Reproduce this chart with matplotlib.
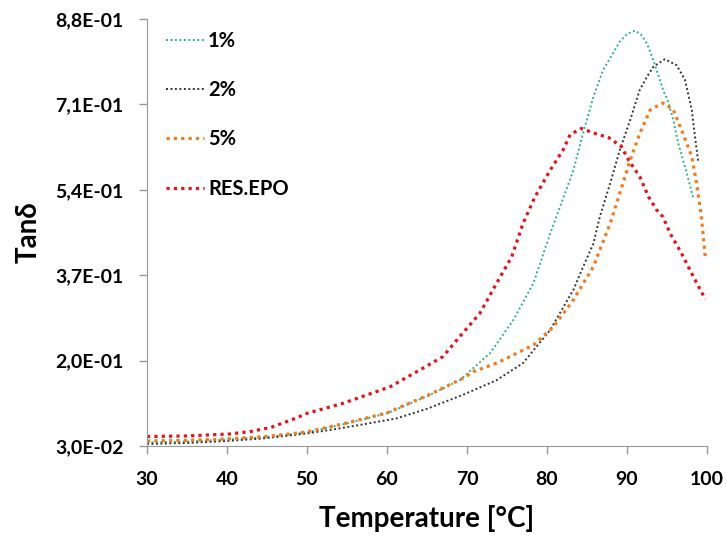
import matplotlib
matplotlib.use("Agg")
import matplotlib.pyplot as plt
import numpy as np

plt.rcParams['font.family'] = ['Lato', 'DejaVu Sans']
plt.rcParams['font.weight'] = 'bold'

# Tan delta vs temperature, one array pair per sample
temp_1 = [30, 35, 40, 45, 50, 55, 60, 65.4, 69.1, 72.9, 75.8, 78.3, 80.4, 82.25,
          83.3, 84.5, 85.8, 87.0, 88.0, 89.1, 90.0, 91.0, 91.8, 92.5, 93.3, 94.1,
          94.6, 95.0, 95.8, 96.4, 97.25, 98.3]
tan_1 = [0.037, 0.039, 0.043, 0.048, 0.057, 0.075, 0.095, 0.132, 0.161, 0.215, 0.281,
         0.354, 0.453, 0.533, 0.579, 0.652, 0.725, 0.778, 0.805, 0.835, 0.850, 0.857,
         0.848, 0.831, 0.798, 0.759, 0.735, 0.722, 0.679, 0.633, 0.586, 0.523]

temp_2 = [30, 35, 40, 44.5, 50, 52.9, 57, 61.2, 65, 69.5, 70.8, 73.7, 77.0, 80.4,
          83.3, 84.5, 85.8, 86.6, 87.9, 89.1, 90.4, 91.6, 92.5, 93.3, 94.75, 96.2,
          97.25, 98.1, 98.5, 98.9]
tan_2 = [0.034, 0.036, 0.040, 0.045, 0.055, 0.062, 0.073, 0.085, 0.104, 0.132, 0.141,
         0.161, 0.195, 0.261, 0.341, 0.386, 0.433, 0.486, 0.553, 0.619, 0.679, 0.739,
         0.765, 0.785, 0.800, 0.788, 0.759, 0.699, 0.646, 0.596]

temp_5 = [30, 35, 40, 45, 50, 55, 60, 65.4, 69.5, 70.8, 73.7, 75.0, 78.3, 80.8,
          83.3, 85.8, 86.6, 87.9, 89.1, 90.4, 91.6, 92.9, 94.5, 95.8, 97.0, 98.1,
          98.7, 99.3, 99.8]
tan_5 = [0.040, 0.041, 0.044, 0.049, 0.058, 0.076, 0.096, 0.133, 0.165, 0.178, 0.195,
         0.205, 0.231, 0.267, 0.321, 0.387, 0.420, 0.473, 0.533, 0.599, 0.652, 0.699,
         0.713, 0.699, 0.652, 0.606, 0.553, 0.486, 0.404]

temp_epo = [30, 35, 40.4, 43, 45.5, 48.7, 50, 54.5, 60.4, 64.5, 67.0, 69.1, 71.6, 73.7,
            75.6, 77.0, 78.5, 80.4, 82.0, 82.9, 84.3, 86.2, 87.7, 89.3, 90.2, 91.6,
            92.7, 93.7, 94.5, 95.4, 96.8, 98.3, 99.8]
tan_epo = [0.049, 0.050, 0.054, 0.059, 0.067, 0.086, 0.095, 0.115, 0.148, 0.185, 0.208,
           0.248, 0.294, 0.354, 0.407, 0.473, 0.526, 0.579, 0.619, 0.650, 0.662, 0.651,
           0.644, 0.626, 0.599, 0.566, 0.526, 0.500, 0.486, 0.453, 0.414, 0.367, 0.322]

labels = ["1%", "2%", "5%", "RES.EPO"]
yticks = [0.03, 0.20, 0.37, 0.54, 0.71, 0.88]
ytick_labels = ["3,0E-02", "2,0E-01", "3,7E-01", "5,4E-01", "7,1E-01", "8,8E-01"]

fig = plt.figure(figsize=(7.26, 5.41), dpi=100)
ax = fig.add_axes([0.2025, 0.1756, 0.7713, 0.7893])

ax.plot(temp_1, tan_1, color='#2bb58a', lw=1.4, ls=(0, (1, 1.3)), label=labels[0])
ax.plot(temp_2, tan_2, color='#333333', lw=1.4, ls=(0, (1, 1.3)), label=labels[1])
ax.plot(temp_5, tan_5, color='#f07b22', lw=2.3, ls=(0, (1, 1.3)), label=labels[2])
ax.plot(temp_epo, tan_epo, color='#e8121b', lw=2.3, ls=(0, (1, 1.3)), label=labels[3])

ax.set_xlim(30, 100)
ax.set_ylim(0.03, 0.88)
ax.set_xticks(range(30, 101, 10))
ax.set_yticks(yticks)
ax.set_yticklabels(ytick_labels)

for side in ['top', 'right']:
    ax.spines[side].set_visible(False)
for side in ['left', 'bottom']:
    ax.spines[side].set_color('#999999')
ax.tick_params(axis='both', color='#999999', length=6, width=1, labelsize=14)
ax.tick_params(axis='x', pad=12)
ax.tick_params(axis='y', pad=11)

ax.set_xlabel("Temperature [°C]", fontsize=20, fontweight='bold', labelpad=12)
ax.set_ylabel("Tanδ", fontsize=20, fontweight='bold', labelpad=10)

leg = ax.legend(loc='upper left', bbox_to_anchor=(0.012, 1.0), frameon=False,
                fontsize=14.5, labelspacing=1.45, handlelength=1.9,
                handletextpad=0.2, borderaxespad=0.2)

fig.savefig("out.png", dpi=100)
